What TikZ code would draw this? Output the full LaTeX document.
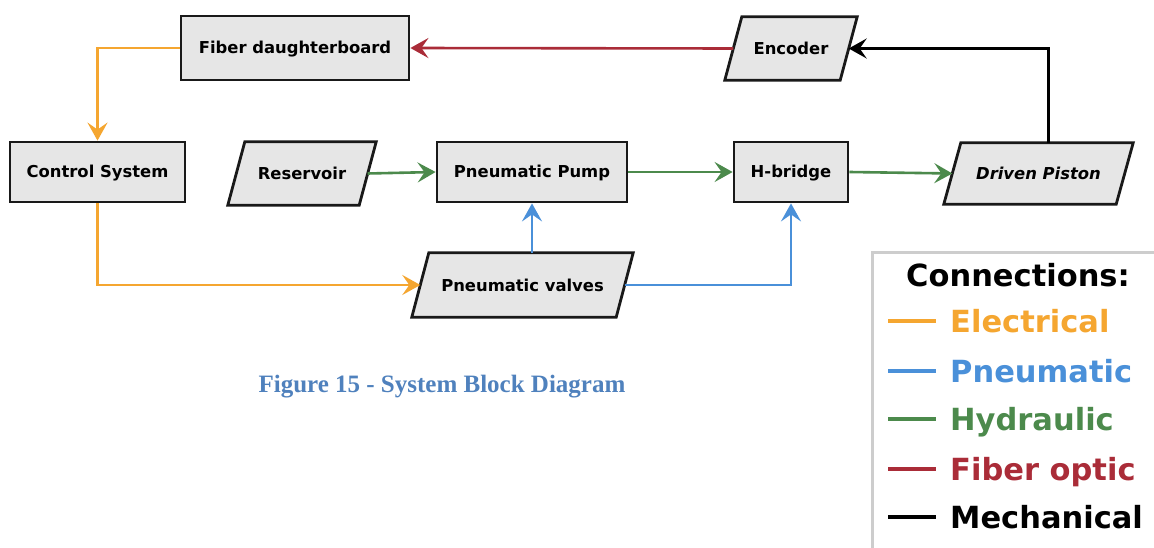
\documentclass[tikz,border=0pt]{standalone}
\usepackage{fontspec}
\setmainfont{DejaVu Sans}
\newfontfamily\capfont{Liberation Serif}
\usetikzlibrary{arrows.meta,backgrounds}

\definecolor{elec}{RGB}{245,166,48}
\definecolor{pneu}{RGB}{74,144,217}
\definecolor{hydr}{RGB}{76,138,76}
\definecolor{fibr}{RGB}{170,44,56}
\definecolor{boxfill}{RGB}{230,230,230}
\definecolor{capblue}{RGB}{79,129,189}
\definecolor{legendgray}{RGB}{205,205,205}

\tikzset{
  boxline/.style={draw=black!90, line width=2.8pt, fill=boxfill},
  block/.style={inner sep=0pt, text height=15pt, text depth=3pt,
    font=\bfseries\fontsize{16.4}{18}\selectfont},
  rectblock/.style={block, rectangle, boxline},
  % slanted blocks: the node is the mid-line rectangle, the outline is added behind it
  pgram/.style={block, rectangle},
  link/.style={line width=2.6pt, -{Stealth[length=18pt,width=20pt,inset=7pt]}},
  swatch/.style={line width=4pt},
  legtext/.style={anchor=base west, inner sep=0pt, font=\bfseries\fontsize{30.5}{34}\selectfont},
}

\begin{document}
\begin{tikzpicture}[x=1pt, y=-1pt]
\useasboundingbox (0,0) rectangle (1154,548);
\begin{scope}[on background layer]
\fill[white] (0,0) rectangle (1154,548);
\end{scope}

% blocks
\node[rectblock, minimum width=228, minimum height=64] (fiber) at (295,48) {Fiber daughterboard};
\node[pgram, minimum width=115, minimum height=63] (enc) at (791,48.5) {Encoder};
\node[rectblock, minimum width=175, minimum height=60] (ctrl) at (97.5,172) {Control System};
\node[pgram, minimum width=131, minimum height=63] (res) at (302,173.5) {Reservoir};
\node[rectblock, minimum width=190, minimum height=60] (pump) at (532,172) {Pneumatic Pump};
\node[rectblock, minimum width=114, minimum height=60] (hb) at (791,172) {H-bridge};
\node[pgram, minimum width=172, minimum height=61, font=\bfseries\itshape\fontsize{16.4}{18}\selectfont] (piston) at (1038.5,173.5) {Driven Piston};
\node[pgram, minimum width=204, minimum height=64] (valves) at (522.5,285) {Pneumatic valves};

\begin{scope}[on background layer]
\foreach \n in {enc,res,piston,valves}
  \draw[boxline] ([xshift=8.5pt]\n.north west) -- ([xshift=8.5pt]\n.north east)
    -- ([xshift=-8.5pt]\n.south east) -- ([xshift=-8.5pt]\n.south west) -- cycle;
\end{scope}

% connections
\draw[link, fibr] (enc.west) -- (fiber.east);
\coordinate (pistontop) at ([xshift=10pt]piston.north);
\draw[link, black, line width=2.2pt] (pistontop) |- (enc.east);
\draw[link, elec] (fiber.west) -| (ctrl.north);
\draw[link, elec] (ctrl.south) |- (valves.west);
\draw[link, hydr] (res.east) -- (pump.west);
\draw[link, hydr] (pump.east) -- (hb.west);
\draw[link, hydr] (hb.east) -- (piston.west);
\draw[link, pneu] (valves.north -| pump.south) -- (pump.south);
\draw[link, pneu] (valves.east) -| (hb.south);

% caption
\node[font=\capfont\bfseries\fontsize{25}{29}\selectfont, text=capblue] (cap) at (442,387) {Figure 15 - System Block Diagram};

% legend
\begin{scope}
\clip (0,0) rectangle (1154,548);
\draw[legendgray, line width=3pt] (872,253) rectangle (1180,580);
\end{scope}
\node[anchor=base, inner sep=0pt, font=\bfseries\fontsize{30.5}{34}\selectfont] (lhead) at (1018,287) {Connections:};
\node[legtext, text=elec] (lelec) at (950,332) {Electrical};
\node[legtext, text=pneu] (lpneu) at (950,382) {Pneumatic};
\node[legtext, text=hydr] (lhydr) at (950,430) {Hydraulic};
\node[legtext, text=fibr] (lfibr) at (950,480) {Fiber optic};
\node[legtext, text=black] (lmech) at (950,528) {Mechanical};
\draw[swatch, elec] (888,321) -- (936,321);
\draw[swatch, pneu] (888,371) -- (936,371);
\draw[swatch, hydr] (888,419) -- (936,419);
\draw[swatch, fibr] (888,469) -- (936,469);
\draw[swatch, black] (888,517) -- (936,517);
\end{tikzpicture}
\end{document}
